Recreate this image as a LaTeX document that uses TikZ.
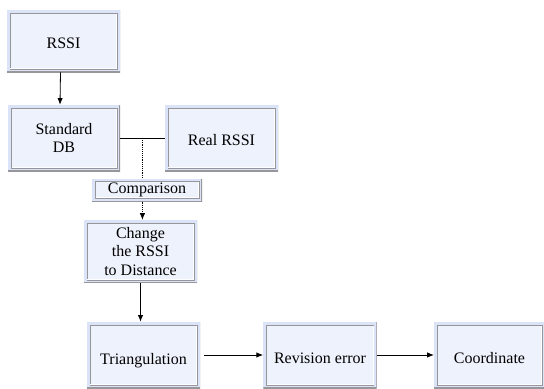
\documentclass[tikz,border=0pt]{standalone}
\usepackage{fontspec}
\setmainfont{Liberation Serif}
\usetikzlibrary{arrows.meta,calc}
\definecolor{frameblue}{RGB}{218,227,247}
\definecolor{innerblue}{RGB}{238,242,252}
\definecolor{edgegray}{RGB}{150,150,155}
\begin{document}
\begin{tikzpicture}[
		x=0.75pt, y=-0.75pt,
		font=\fontsize{12}{14}\selectfont,
		box/.style = {
				fill=frameblue, inner sep=0pt, align=center,
				minimum width=#1,
				path picture={
						\draw[edgegray, fill=innerblue] ([shift={(2.2pt,-2.2pt)}]path picture bounding box.north west) rectangle ([shift={(-2.2pt,2.2pt)}]path picture bounding box.south east);
						\draw[white] ([shift={(2.7pt,2.7pt)}]path picture bounding box.south west) -- ([shift={(-2.7pt,2.7pt)}]path picture bounding box.south east) -- ([shift={(-2.7pt,-2.7pt)}]path picture bounding box.north east);
						\draw[edgegray, line width=1pt] (path picture bounding box.north east) -- (path picture bounding box.south east) -- (path picture bounding box.south west);
					},
			},
		box/.default = 85pt,
		low/.style = {text height=#1, text depth=0pt},
		low/.default = 13pt,
		link/.style = {line width=0.6pt, -{Latex[length=5pt,width=4pt]}},
		dots/.style = {line width=0.6pt, dash pattern=on 0.6pt off 0.8pt},
	]
	\path[use as bounding box] (0,0) rectangle (544,389);
	\node[box, low=11pt, minimum height=46.5pt] (rssi) at (63.5,41) {RSSI};
	\node[box=84pt, minimum height=49.5pt] (sdb) at (64,138) {Standard\\DB};
	\node[box, low=12pt, minimum height=49.5pt] (real) at (221.5,138) {Real RSSI};
	\node[box=82.5pt, minimum height=17pt] (cmp) at (147,190) {Comparison};
	\node[box, minimum height=47pt] (chg) at (140.5,251.5) {Change\\the RSSI\\to Distance};
	\node[box, low=14pt, minimum height=49.5pt] (tri) at (143.5,355) {Triangulation};
	\node[box, low, minimum height=49.5pt] (rev) at (320,355) {Revision error};
	\node[box=83pt, low, minimum height=49.5pt] (coo) at (489.5,355) {Coordinate};
	% links
	\draw[link] ($(rssi.south)+(-3,0)$) -- ($(sdb.north)+(-4,0)$);
	\draw[line width=0.6pt] (sdb.east) -- coordinate[pos=0.5] (jn) (sdb.east -| real.west);
	\draw[dots] (jn) -- (jn |- cmp.north);
	\draw[link, dots] (jn |- cmp.south) -- (jn |- chg.north);
	\draw[link] (chg.south) -- (chg.south |- tri.north);
	\draw[link, shorten <=3pt] (tri.east) -- (rev.west);
	\draw[link] (rev.east) -- (coo.west);
\end{tikzpicture}
\end{document}
